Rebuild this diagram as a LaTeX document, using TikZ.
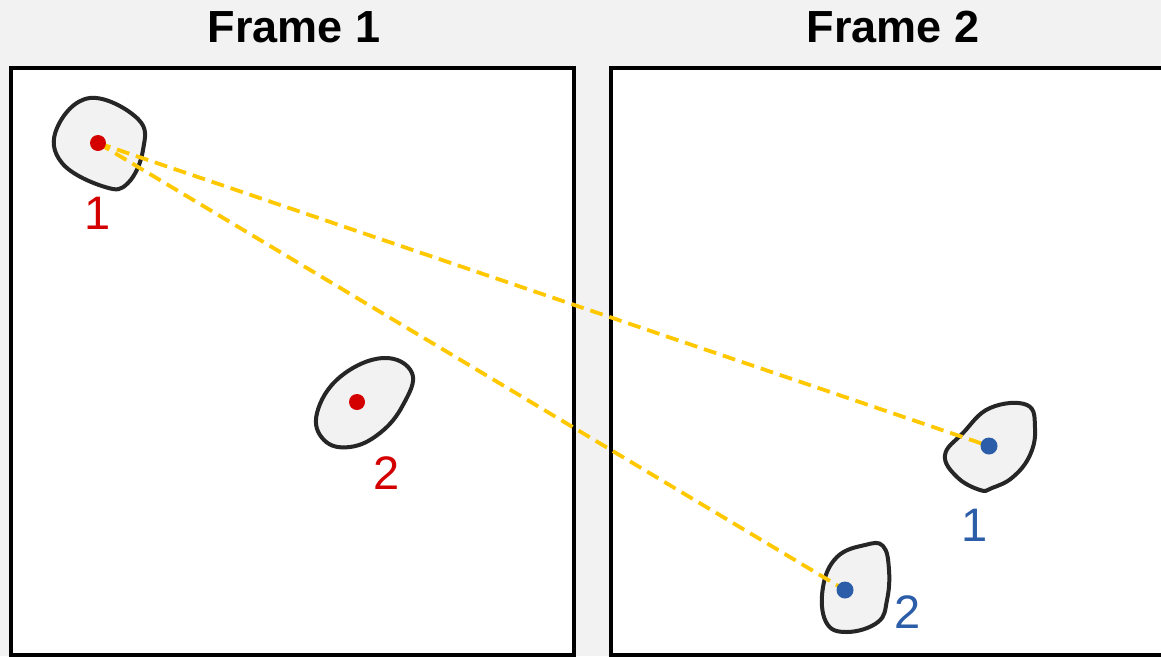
\documentclass[tikz,border=0pt]{standalone}
\usepackage{fontspec}
\setmainfont{Liberation Sans}
\definecolor{paper}{HTML}{F2F2F2}
\definecolor{ptred}{HTML}{D40000}
\definecolor{ptblue}{HTML}{2B5DA8}
\definecolor{track}{HTML}{FFC800}
\tikzset{
  frame/.style={draw=black, line width=4pt, fill=white},
  blob/.style={draw=black!85, line width=4pt, fill=paper, line join=round},
  spot/.style={circle, inner sep=0pt, minimum size=16pt},
  lbl/.style={font=\fontsize{47}{47}\selectfont},
  link/.style={track, line width=3.8pt, dash pattern=on 13pt off 7pt},
}
\begin{document}
\begin{tikzpicture}[x=1pt, y=-1pt]
    \useasboundingbox (0,0) rectangle (1161,656);
    \clip (0,0) rectangle (1161,656);
    \fill[paper] (0,0) rectangle (1161,656);
    % the two frames
    \draw[frame] (11,68) rectangle (574,654.5);
    \draw[frame] (611,68) rectangle (1180,654.5);
    \node[font=\bfseries\fontsize{45}{45}\selectfont] (title1) at (294,27) {Frame 1};
    \node[font=\bfseries\fontsize{45}{45}\selectfont] (title2) at (893,27) {Frame 2};
    % blobs
    \draw[blob] plot[smooth cycle, tension=0.7] coordinates
      {(90,98) (138,119) (143,150) (128,183) (105,187) (62,163) (57,128)};
    \draw[blob] plot[smooth cycle, tension=0.7] coordinates
      {(383,358) (412,373) (403,405) (380,433) (350,447) (324,440) (317,413) (340,377)};
    \draw[blob] plot[smooth cycle, tension=0.7] coordinates
      {(1027,405) (1035,428) (1030,455) (1013,477) (992,488) (980,490) (957,477) (945,455) (963,433) (990,408)};
    \draw[blob] plot[smooth cycle, tension=0.7] coordinates
      {(883,546) (889,570) (887,600) (878,622) (847,632) (826,622) (823,587) (837,557) (865,545)};
    % points
    \node[spot] (r1) at (98,143) {};
    \node[spot] (r2) at (357,402) {};
    \node[spot] (b1) at (989,446) {};
    \node[spot] (b2) at (845,590) {};
    \draw[link] (r1.center) -- (b1.center);
    \draw[link] (r1.center) -- (b2.center);
    \fill[ptred] (r1) circle (8);
    \fill[ptred] (r2) circle (8);
    \fill[ptblue] (b1) circle (8.5);
    \fill[ptblue] (b2) circle (8.5);
    \node[lbl, ptred] (r1lbl) at (98,213) {1};
    \node[lbl, ptred] (r2lbl) at (387,473) {2};
    \node[lbl, ptblue] (b1lbl) at (975,525) {1};
    \node[lbl, ptblue] (b2lbl) at (908,612) {2};
\end{tikzpicture}
\end{document}
